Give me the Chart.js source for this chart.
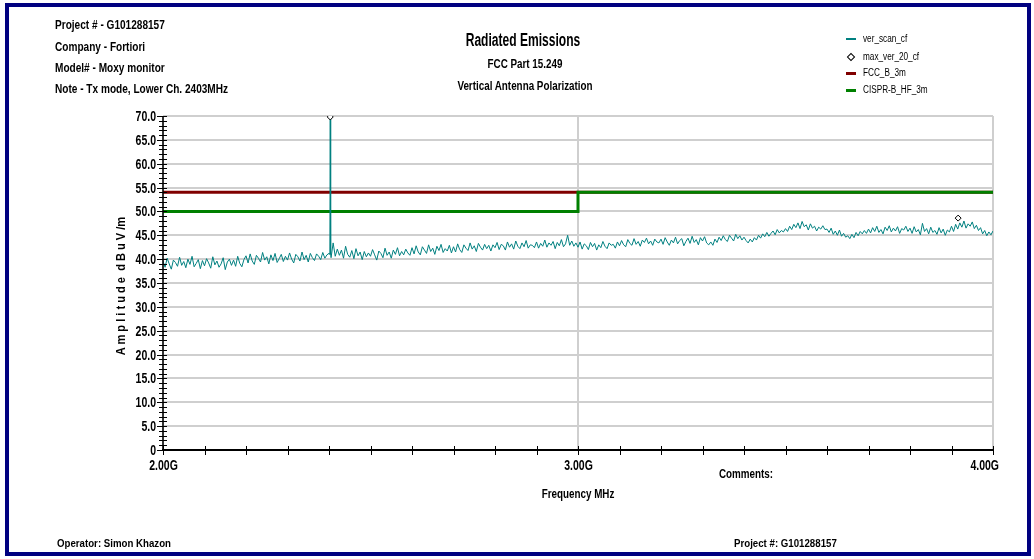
<!DOCTYPE html>
<html>
<head>
<meta charset="UTF-8">
<title>Radiated Emissions</title>
<script src="https://cdn.jsdelivr.net/npm/chart.js/dist/chart.umd.min.js"></script>
<style>
  body { margin: 0; background: #fff; }
  #wrap { position: relative; width: 1034px; height: 559px; overflow: hidden;
          font-family: 'Liberation Sans', Arial, sans-serif; font-weight: bold; color: #000; }
  #frame { position: absolute; left: 5px; top: 3px; width: 1026px; height: 553px;
           border: 4px solid #000080; box-sizing: border-box; }
  canvas { position: absolute; left: 0; top: 0; }
  /* the report uses a condensed face, so squeeze Liberation Sans sideways */
  .t { position: absolute; white-space: nowrap; line-height: 14px; transform-origin: 0 50%; transform: scaleX(0.84); }
  .c { transform-origin: 50% 50%; transform: translateX(-50%) scaleX(0.82); }
  .leg { position: absolute; font-size: 10px; line-height: 12px; white-space: nowrap; font-weight: normal;
         transform-origin: 0 50%; transform: scaleX(0.82); }
</style>
</head>
<body>
<div id="wrap">
  <canvas id="emiChart" width="1034" height="559"></canvas>
  <div id="frame"></div>

  <div class="t" style="left:55px;top:18px;font-size:12px">Project # - G101288157</div>
  <div class="t" style="left:55px;top:40px;font-size:12px">Company - Fortiori</div>
  <div class="t" style="left:55px;top:61px;font-size:12px">Model# - Moxy monitor</div>
  <div class="t" style="left:55px;top:82px;font-size:12px">Note - Tx mode, Lower Ch. 2403MHz</div>

  <div class="t c" style="left:523px;top:29px;font-size:18px;line-height:22px;transform:translateX(-50%) scaleX(0.67)">Radiated Emissions</div>
  <div class="t c" style="left:525px;top:57px;font-size:12px">FCC Part 15.249</div>
  <div class="t c" style="left:525px;top:79px;font-size:12px">Vertical Antenna Polarization</div>

  <div class="t" style="left:121px;top:286px;font-size:13px;transform-origin:50% 50%;transform:translate(-50%,-50%) rotate(-90deg) scaleX(0.85)">A m p l i t u d e &nbsp;d B u V /m</div>
  <div class="t c" style="left:578px;top:487px;font-size:12px">Frequency MHz</div>
  <div class="t c" style="left:746px;top:467px;font-size:12px">Comments:</div>
  <div class="t" style="left:57px;top:536px;font-size:11px;transform:scaleX(0.88)">Operator: Simon Khazon</div>
  <div class="t" style="left:734px;top:536px;font-size:11px;transform:scaleX(0.88)">Project #: G101288157</div>

  <div id="legend"></div>
</div>

<script>
// ---------------- data ----------------
const seriesNames = ['ver_scan_cf', 'max_ver_20_cf', 'FCC_B_3m', 'CISPR-B_HF_3m'];
const seriesColors = ['#008080', '#000000', '#800000', '#008000'];

// scan trace, one reading every 5 MHz from 2000 to 4000 MHz (dBuV/m), 100 MHz per row
const scanStart = 2000;
const scanStep = 5;
const scanLevel = [
  39.6, 38.3, 40.2, 39.0, 37.9, 39.8, 39.3, 38.5, 40.4, 38.7, 39.5, 38.2, 40.0, 38.9, 40.6, 38.4, 39.1, 39.9, 38.0, 39.7,
  38.6, 40.1, 39.2, 38.1, 40.5, 38.8, 39.6, 38.3, 39.0, 40.3, 37.8, 39.4, 40.0, 38.7, 39.8, 38.5, 40.6, 39.1, 38.4, 39.9,
  40.7, 39.2, 41.1, 39.6, 38.9, 40.8, 40.2, 39.4, 41.4, 39.8, 40.5, 39.0, 40.9, 39.7, 41.2, 39.3, 40.1, 41.0, 39.5, 40.6,
  39.8, 41.3, 40.0, 39.2, 41.0, 40.5, 39.6, 41.5, 39.9, 40.8, 39.4, 41.2, 40.3, 39.7, 41.1, 40.6, 39.9, 41.4, 40.2, 40.9,
  41.2, 40.3, 43.4, 40.6, 42.1, 40.8, 41.9, 40.2, 42.7, 41.0, 40.4, 41.8, 40.1, 42.2, 40.7, 41.5, 39.9, 41.6, 40.5, 41.3,
  40.6, 42.0, 40.9, 39.8, 41.7, 41.2, 40.3, 42.3, 40.8, 41.5, 40.2, 41.9, 41.0, 42.4, 40.7, 41.6, 40.9, 42.1, 41.3, 40.8,
  42.4, 41.1, 42.8, 41.5, 40.9, 42.6, 41.9, 41.2, 43.0, 41.6, 42.3, 41.0, 42.7, 41.8, 43.1, 41.4, 42.2, 41.7, 42.9, 41.3,
  42.6, 41.5, 43.2, 42.0, 41.4, 43.0, 42.3, 41.8, 43.4, 42.1, 42.8, 41.6, 43.3, 42.5, 41.9, 43.1, 42.2, 42.9, 41.7, 43.0,
  42.4, 43.5, 42.0, 43.1, 42.8, 41.9, 43.6, 42.5, 43.2, 42.1, 43.8, 42.7, 42.2, 43.4, 42.6, 43.9, 42.3, 43.0, 42.9, 42.4,
  43.6, 42.3, 43.3, 42.7, 44.0, 42.5, 43.4, 42.9, 43.7, 42.2, 43.5, 42.8, 44.1, 42.6, 43.2, 45.0, 42.9, 43.8, 42.7, 43.4,
  42.5, 43.6, 42.1, 43.2, 42.8, 42.0, 43.5, 42.6, 43.3, 41.9, 43.0, 42.4, 43.7, 42.7, 42.2, 43.4, 42.9, 43.1, 42.3, 43.6,
  42.8, 43.9, 43.0, 42.6, 44.1, 43.3, 42.9, 44.3, 43.1, 43.7, 42.7, 44.0, 43.5, 44.4, 43.2, 43.8, 42.9, 44.2, 43.6, 43.4,
  44.2, 43.1, 44.5, 43.6, 42.9, 44.0, 43.4, 44.6, 43.2, 43.9, 44.3, 42.8, 43.7, 44.4, 43.3, 44.8, 43.5, 44.1, 43.0, 44.5,
  43.8, 44.7, 43.4, 43.0, 43.6, 42.9, 44.2, 43.5, 44.6, 43.9, 44.9, 44.1, 43.7, 45.0, 44.4, 43.8, 45.2, 44.3, 44.9, 44.0,
  44.6, 43.9, 43.4, 44.2, 43.6, 44.5, 44.0, 45.0, 44.4, 45.3, 44.7, 45.6, 44.8, 45.4, 45.9, 45.1, 46.2, 45.5, 46.0, 45.7,
  46.4, 45.8, 46.9, 46.2, 47.3, 46.6, 47.6, 46.4, 47.9, 46.8, 47.2, 46.1, 47.4, 46.5, 46.9, 45.9, 46.7, 46.3, 47.0, 46.2,
  46.3, 45.6, 46.5, 45.2, 45.9, 45.0, 46.1, 44.8, 45.4, 44.6, 44.9, 44.3, 45.2, 44.5, 45.6, 44.9, 45.8, 45.3, 46.0, 45.4,
  46.3, 45.5, 46.6, 45.8, 46.9, 45.6, 46.2, 45.3, 46.7, 46.0, 47.0, 45.7, 46.5, 45.9, 46.8, 45.4, 46.4, 46.1, 46.9, 45.8,
  46.5, 45.4, 46.8, 45.7, 46.2, 45.1, 47.5, 45.8, 46.4, 45.3, 46.7, 45.6, 46.0, 45.2, 46.6, 45.5, 46.3, 45.0, 46.1, 45.7,
  46.9, 45.8, 47.3, 46.3, 47.6, 46.7, 48.0, 46.5, 47.4, 46.9, 47.8, 46.4, 47.1, 46.0, 46.6, 45.3, 46.0, 44.9, 45.7, 45.1,
  45.9
];
// carrier spike at 2403 MHz
const spikeFreq = [2402, 2403, 2404];
const spikeLevel = [41.0, 69.8, 41.0];

// max hold markers
const maxFreq = [2403, 3916];
const maxLevel = [69.8, 48.6];

// limit lines
const fccFreq = [2000, 4000];
const fccLevel = [54, 54];
const cisprFreq = [2000, 3000, 3000, 4000];
const cisprLevel = [50, 50, 54, 54];

// ---------------- build ----------------
const scanPoints = scanLevel.map((v, i) => ({ x: scanStart + i * scanStep, y: v }));
spikeFreq.forEach((f, i) => scanPoints.push({ x: f, y: spikeLevel[i] }));
scanPoints.sort((a, b) => a.x - b.x);

const pts = (xs, ys) => xs.map((x, i) => ({ x: x, y: ys[i] }));

const labelFont = "bold 14px 'Liberation Sans', Arial, sans-serif";
const squeeze = 0.75;

// axis lines, crossing tick marks and condensed tick labels
const axisMarks = {
  id: 'axisMarks',
  afterDraw(chart) {
    const { ctx, chartArea: a, scales: { x, y } } = chart;
    ctx.save();
    ctx.strokeStyle = '#000';
    ctx.fillStyle = '#000';
    ctx.lineWidth = 1;
    ctx.font = labelFont;
    y.ticks.forEach(t => {
      const py = Math.round(y.getPixelForValue(t.value)) + 0.5;
      const major = t.value % 5 === 0;
      ctx.beginPath();
      ctx.moveTo(a.left - (major ? 6 : 4), py);
      ctx.lineTo(a.left + 4, py);
      ctx.stroke();
      if (t.label) {
        ctx.save();
        ctx.translate(a.left - 7, py + 1);
        ctx.scale(squeeze, 1);
        ctx.textAlign = 'right';
        ctx.textBaseline = 'middle';
        ctx.fillText(t.label, 0, 0);
        ctx.restore();
      }
    });
    x.ticks.forEach(t => {
      const px = Math.round(x.getPixelForValue(t.value)) + 0.5;
      ctx.beginPath();
      ctx.moveTo(px, a.bottom - 4);
      ctx.lineTo(px, a.bottom + 5);
      ctx.stroke();
      if (t.label) {
        const w = ctx.measureText(t.label).width * squeeze;
        const cx = Math.min(px, 999 - w / 2);
        ctx.save();
        ctx.translate(cx, a.bottom + 9);
        ctx.scale(squeeze, 1);
        ctx.textAlign = 'center';
        ctx.textBaseline = 'top';
        ctx.fillText(t.label, 0, 0);
        ctx.restore();
      }
    });
    ctx.lineWidth = 1.5;
    ctx.beginPath();
    ctx.moveTo(a.left, a.top);
    ctx.lineTo(a.left, a.bottom);
    ctx.stroke();
    ctx.lineWidth = 2;
    ctx.beginPath();
    ctx.moveTo(a.left - 1, a.bottom);
    ctx.lineTo(a.right, a.bottom);
    ctx.stroke();
    ctx.restore();
  }
};

new Chart(document.getElementById('emiChart'), {
  type: 'line',
  data: {
    datasets: [
      { label: seriesNames[1], data: pts(maxFreq, maxLevel), showLine: false, order: 0, clip: 0,
        pointStyle: 'rectRot', pointRadius: 3, borderWidth: 1,
        borderColor: seriesColors[1], backgroundColor: '#fff' },
      { label: seriesNames[0], data: scanPoints, order: 1, borderColor: seriesColors[0],
        borderWidth: 1, pointRadius: 0, tension: 0 },
      { label: seriesNames[3], data: pts(cisprFreq, cisprLevel), order: 2, borderColor: seriesColors[3],
        borderWidth: 3, pointRadius: 0 },
      { label: seriesNames[2], data: pts(fccFreq, fccLevel), order: 3, borderColor: seriesColors[2],
        borderWidth: 3, pointRadius: 0 }
    ]
  },
  options: {
    responsive: false,
    animation: false,
    layout: { padding: { left: 0, top: 116, right: 41, bottom: 0 } },
    plugins: { legend: { display: false }, tooltip: { enabled: false } },
    scales: {
      x: {
        type: 'linear', min: 2000, max: 4000,
        afterFit: s => { s.height = 109; },
        ticks: {
          display: false, stepSize: 100, autoSkip: false, maxRotation: 0,
          callback: v => v % 1000 === 0 ? (v / 1000).toFixed(2) + 'G' : ''
        },
        grid: {
          drawTicks: false, lineWidth: 2,
          color: c => (c.tick && c.tick.value % 1000 === 0) ? '#cfcfcf' : 'rgba(0,0,0,0)'
        },
        border: { display: false }
      },
      y: {
        min: 0, max: 70,
        afterFit: s => { s.width = 163; },
        ticks: {
          display: false, stepSize: 1, autoSkip: false,
          callback: v => v % 5 === 0 ? (v === 0 ? '0' : v.toFixed(1)) : ''
        },
        grid: {
          drawTicks: false, lineWidth: 2,
          color: c => (c.tick && c.tick.value % 5 === 0) ? '#cfcfcf' : 'rgba(0,0,0,0)'
        },
        border: { display: false }
      }
    }
  },
  plugins: [axisMarks]
});

// legend, top right
const legendTop = [33, 51, 67, 84];
const legend = document.getElementById('legend');
seriesNames.forEach((name, i) => {
  let mark;
  if (i === 1) {
    mark = '<div style="position:absolute;left:848px;top:' + (legendTop[i] + 3) + 'px;width:4px;height:4px;border:1px solid #000;transform:rotate(45deg)"></div>';
  } else {
    const h = i === 0 ? 2 : 3;
    mark = '<div style="position:absolute;left:846px;top:' + (legendTop[i] + 6 - Math.floor(h / 2)) + 'px;width:10px;height:' + h + 'px;background:' + seriesColors[i] + '"></div>';
  }
  legend.insertAdjacentHTML('beforeend', mark +
    '<div class="leg" style="left:863px;top:' + legendTop[i] + 'px">' + name + '</div>');
});
</script>
</body>
</html>
